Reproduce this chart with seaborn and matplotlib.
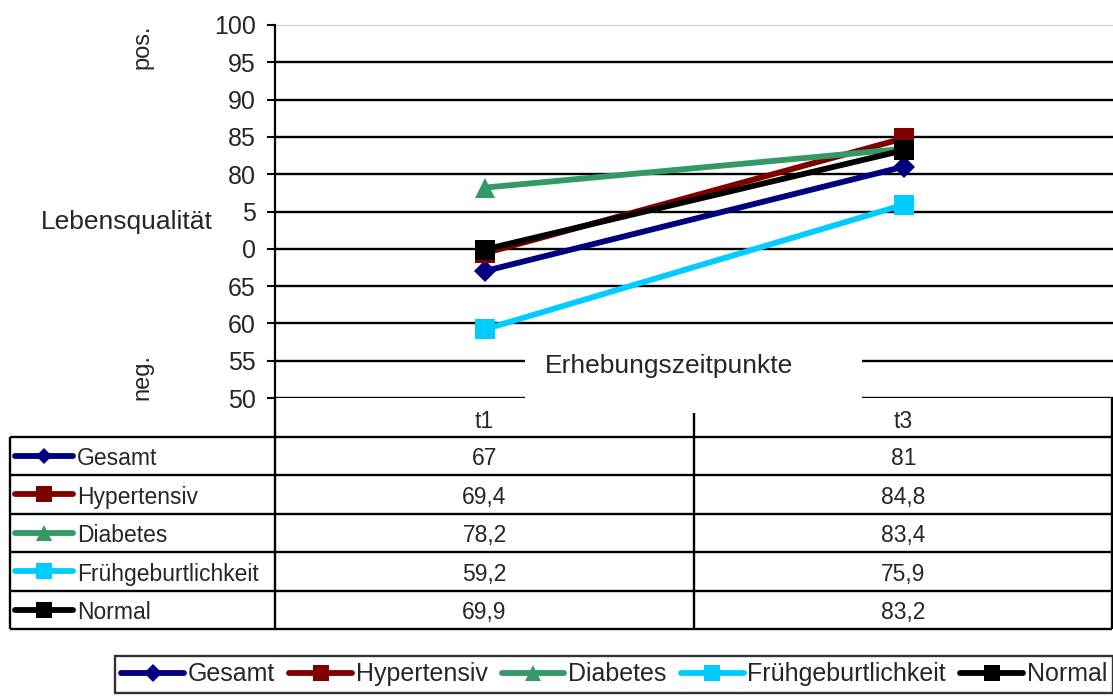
import numpy as np
import pandas as pd
import matplotlib
matplotlib.use("Agg")
import matplotlib.pyplot as plt
from matplotlib.patches import Rectangle
import seaborn as sns

# --- data -------------------------------------------------------------
periods = ["t1", "t3"]
series_names = ["Gesamt", "Hypertensiv", "Diabetes", "Frühgeburtlichkeit", "Normal"]
gesamt = [67, 81]
hypertensiv = [69.4, 84.8]
diabetes = [78.2, 83.4]
fruehgeburt = [59.2, 75.9]
normal = [69.9, 83.2]
ytick_values = [50, 55, 60, 65, 70, 75, 80, 85, 90, 95, 100]
ytick_labels = ["50", "55", "60", "65", "0", "5", "80", "85", "90", "95", "100"]

series_values = [gesamt, hypertensiv, diabetes, fruehgeburt, normal]
colors = ["#000080", "#800000", "#339966", "#00CCFF", "#000000"]
marker_map = {"Gesamt": "D", "Hypertensiv": "s", "Diabetes": "^",
              "Frühgeburtlichkeit": "s", "Normal": "s"}
size_map = {"Gesamt": 11, "Hypertensiv": 15, "Diabetes": 15,
            "Frühgeburtlichkeit": 15, "Normal": 15}

df = pd.DataFrame(
    [(name, i, v) for name, vals in zip(series_names, series_values)
     for i, v in enumerate(vals)],
    columns=["Gruppe", "pos", "Wert"],
)

sns.set_style("white")
plt.rcParams["font.family"] = ["Liberation Sans", "DejaVu Sans"]

W, H = 1113, 696
fig = plt.figure(figsize=(W / 100, H / 100), dpi=100)

# plot area in pixel units
x0, x1 = 275, 1113
y_top, y_bot = 25, 398
ax = fig.add_axes([x0 / W, 1 - y_bot / H, (x1 - x0) / W, (y_bot - y_top) / H])

palette = dict(zip(series_names, colors))
sns.lineplot(data=df, x="pos", y="Wert", hue="Gruppe", style="Gruppe",
             hue_order=series_names, style_order=series_names,
             palette=palette, markers=marker_map, dashes=False,
             linewidth=4.2, legend=False, ax=ax, zorder=3)
for line, name in zip(ax.get_lines(), series_names):
    line.set_markersize(size_map[name])
    line.set_markeredgewidth(0)
    line.set_label(name)

ax.set_xlim(-0.5, 1.5)
ax.set_ylim(50, 100)
ax.set_xticks([])
ax.set_yticks(ytick_values)
ax.set_yticklabels(ytick_labels, fontsize=18)
ax.tick_params(axis="y", length=6, width=1.5, color="black", pad=8, left=True)
ax.set_xlabel("")
ax.set_ylabel("")
for s in ["top", "right", "bottom"]:
    ax.spines[s].set_visible(False)
ax.spines["left"].set_color("black")
ax.spines["left"].set_linewidth(1.6)

ax.set_axisbelow(True)
ax.yaxis.grid(True, color="black", linewidth=1.7)
grid_lines = ax.get_ygridlines()
grid_lines[-1].set_color("#c0c0c0")
grid_lines[-1].set_linewidth(1.2)

# x-axis title on a white patch interrupting the lower gridlines
def ax_fx(px):
    return (px - x0) / (x1 - x0)

def ax_fy(py):
    return (y_bot - py) / (y_bot - y_top)

ax.add_patch(Rectangle((ax_fx(525), ax_fy(402)), ax_fx(862) - ax_fx(525),
                       ax_fy(343) - ax_fy(402), transform=ax.transAxes,
                       facecolor="white", edgecolor="none", zorder=1,
                       clip_on=False))
ax.text(ax_fx(669), ax_fy(366), "Erhebungszeitpunkte", transform=ax.transAxes,
        ha="center", va="center", fontsize=19, zorder=2)

# y-axis annotations
fig.text(126.5 / W, 1 - 222 / H, "Lebensqualität", ha="center", va="center",
         fontsize=19)
fig.text(142 / W, 1 - 47 / H, "pos.", ha="center", va="center",
         rotation=90, fontsize=17)
fig.text(142 / W, 1 - 377 / H, "neg.", ha="center", va="center",
         rotation=90, fontsize=17)

# --- data table below the plot ---------------------------------------
t_bot = 629
ax_t = fig.add_axes([x0 / W, 1 - t_bot / H, (x1 - x0) / W, (t_bot - y_bot) / H])
ax_t.set_xlim(-0.5, 1.5)
ax_t.set_ylim(6, 0)
ax_t.axis("off")
col_w = (x1 - x0) / 2.0

def xpx(p):
    return -0.5 + (p - x0) / col_w

row_px = (t_bot - y_bot) / 6.0
lk = dict(color="black", linewidth=1.7, clip_on=False, solid_capstyle="butt")
for r in range(1, 7):
    ax_t.plot([xpx(10), xpx(1112)], [r, r], **lk)
ax_t.plot([xpx(10), xpx(10)], [1, 6], **lk)
ax_t.plot([-0.5, -0.5], [0, 6], **lk)
ax_t.plot([0.5, 0.5], [(413 - y_bot) / row_px, 6], **lk)
ax_t.plot([xpx(1112), xpx(1112)], [0, 6], **lk)

for i, p in enumerate(periods):
    ax_t.text(i, 0.6, p, ha="center", va="center", fontsize=16.5)

def fmt(v):
    return f"{v:g}".replace(".", ",")

for r, (name, vals, c) in enumerate(zip(series_names, series_values, colors), start=1):
    yc = r + 0.58
    ax_t.plot([xpx(15), xpx(44), xpx(73)], [yc - 0.08] * 3, color=c,
              linewidth=4.2, solid_capstyle="round", marker=marker_map[name],
              markersize=size_map[name] * 0.75, markeredgewidth=0,
              markevery=[1], clip_on=False)
    ax_t.text(xpx(77), yc, name, ha="left", va="center", fontsize=16.5)
    for i, v in enumerate(vals):
        ax_t.text(i, yc, fmt(v), ha="center", va="center", fontsize=16.5)

# --- legend at the bottom --------------------------------------------
handles = ax.get_lines()[:len(series_names)]
leg = fig.legend(handles, series_names, loc="upper left",
                 bbox_to_anchor=(115 / W, 1 - 656 / H), ncol=5,
                 fontsize=18, frameon=True, fancybox=False, borderaxespad=0,
                 borderpad=0.25, handlelength=2.5, handletextpad=0.15,
                 columnspacing=0.58, markerscale=0.8)
leg.get_frame().set_edgecolor("black")
leg.get_frame().set_linewidth(1.7)

fig.savefig("out.png", dpi=100)
